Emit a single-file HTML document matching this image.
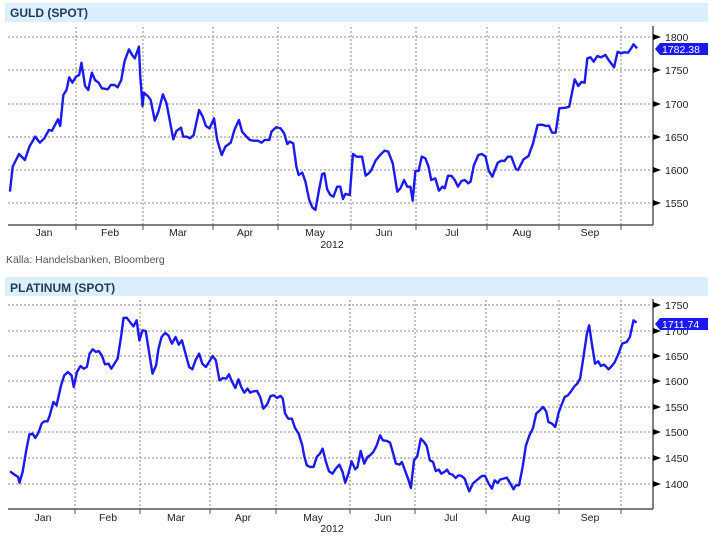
<!DOCTYPE html>
<html><head><meta charset="utf-8"><style>
body{margin:0;background:#fff;width:709px;height:544px;overflow:hidden}
svg text{font-family:"Liberation Sans",sans-serif;font-size:10.5px;fill:#222}
</style></head><body>
<svg width="709" height="544" viewBox="0 0 709 544" xmlns="http://www.w3.org/2000/svg">
<!-- Chart 1 -->
<rect x="5" y="3" width="703" height="19" fill="#dcefff"/>
<text x="10" y="17" style="font-size:12px;font-weight:bold;fill:#1f3a5a">GULD (SPOT)</text>
<g stroke="#888" stroke-width="1" stroke-dasharray="2,2">
<line x1="8" y1="37" x2="653" y2="37"/><line x1="8" y1="70" x2="653" y2="70"/><line x1="8" y1="104" x2="653" y2="104"/><line x1="8" y1="137" x2="653" y2="137"/><line x1="8" y1="170" x2="653" y2="170"/><line x1="8" y1="203" x2="653" y2="203"/>
<line x1="76" y1="27" x2="76" y2="225"/><line x1="143" y1="27" x2="143" y2="225"/><line x1="213" y1="27" x2="213" y2="225"/><line x1="278" y1="27" x2="278" y2="225"/><line x1="351" y1="27" x2="351" y2="225"/><line x1="416" y1="27" x2="416" y2="225"/><line x1="487" y1="27" x2="487" y2="225"/><line x1="559" y1="27" x2="559" y2="225"/><line x1="621" y1="27" x2="621" y2="225"/>
</g>
<g stroke="#555" stroke-width="1.5"><line x1="653" y1="26" x2="653" y2="225"/><line x1="8" y1="225" x2="653" y2="225"/></g>
<g stroke="#555"><line x1="76" y1="225" x2="76" y2="230"/><line x1="143" y1="225" x2="143" y2="230"/><line x1="213" y1="225" x2="213" y2="230"/><line x1="278" y1="225" x2="278" y2="230"/><line x1="351" y1="225" x2="351" y2="230"/><line x1="416" y1="225" x2="416" y2="230"/><line x1="487" y1="225" x2="487" y2="230"/><line x1="559" y1="225" x2="559" y2="230"/><line x1="621" y1="225" x2="621" y2="230"/></g>
<g fill="#000"><path d="M653 34l8 3-8 3z"/><path d="M653 67l8 3-8 3z"/><path d="M653 101l8 3-8 3z"/><path d="M653 134l8 3-8 3z"/><path d="M653 167l8 3-8 3z"/><path d="M653 200l8 3-8 3z"/></g>
<text x="665" y="41">1800</text><text x="665" y="74">1750</text><text x="665" y="108">1700</text><text x="665" y="141">1650</text><text x="665" y="174">1600</text><text x="665" y="207">1550</text>
<g text-anchor="middle"><text x="44" y="236">Jan</text><text x="110" y="236">Feb</text><text x="178" y="236">Mar</text><text x="245" y="236">Apr</text><text x="315" y="236">May</text><text x="384" y="236">Jun</text><text x="452" y="236">Jul</text><text x="522" y="236">Aug</text><text x="590" y="236">Sep</text><text x="332" y="248">2012</text></g>
<text x="6" y="263" style="fill:#555">Källa: Handelsbanken, Bloomberg</text>
<g transform="scale(0.4525,0.3333)"><polyline fill="none" stroke="#1a1aee" stroke-width="2.4" vector-effect="non-scaling-stroke" stroke-linejoin="round" points="22,575 28,500 42,462 55,480 65,440 78,410 88,428 98,415 108,390 115,392 128,358 133,378 140,285 147,270 153,232 160,248 168,230 175,225 180,188 188,258 195,270 203,218 210,240 218,248 225,265 238,268 245,255 253,255 260,262 268,240 275,185 285,148 292,165 298,175 307,140 310,230 315,318 318,278 328,290 333,300 342,362 350,335 360,283 368,310 375,360 383,418 390,393 400,383 405,410 413,410 420,415 428,405 440,330 448,350 455,378 463,385 473,355 480,420 490,465 498,440 510,428 518,390 528,360 535,395 545,410 552,420 560,422 570,422 578,428 585,420 595,420 600,395 610,382 620,385 628,400 635,432 640,425 648,430 655,500 660,525 668,518 675,545 683,598 690,622 697,630 705,570 712,522 717,520 723,568 730,585 737,590 745,560 752,560 758,597 763,582 773,585 780,462 788,470 800,470 808,527 815,520 820,512 830,482 840,465 850,452 858,455 868,490 878,575 885,565 893,540 900,560 907,560 912,602 918,513 925,513 932,470 940,475 947,500 953,540 962,535 970,572 978,560 983,565 990,527 998,528 1005,540 1012,560 1020,543 1027,540 1035,550 1040,545 1047,497 1057,465 1065,462 1073,470 1080,512 1088,530 1100,488 1108,482 1115,483 1122,470 1130,470 1140,507 1145,510 1157,478 1168,468 1178,430 1188,375 1198,374 1206,378 1213,377 1220,398 1228,398 1236,325 1250,323 1258,320 1270,238 1278,258 1285,246 1292,248 1298,175 1305,172 1312,185 1320,168 1328,172 1338,165 1345,180 1357,202 1365,155 1372,160 1380,157 1388,158 1395,145 1400,133 1408,145"/></g>
<path d="M655 49l5-6h48v12h-48z" fill="#1a1aee"/>
<text x="662" y="53" style="fill:#fff">1782.38</text>

<!-- Chart 2 -->
<rect x="5" y="277" width="703" height="19" fill="#dcefff"/>
<text x="10" y="292" style="font-size:12px;font-weight:bold;fill:#1f3a5a">PLATINUM (SPOT)</text>
<g stroke="#888" stroke-width="1" stroke-dasharray="2,2">
<line x1="8" y1="305" x2="653" y2="305"/><line x1="8" y1="331" x2="653" y2="331"/><line x1="8" y1="356" x2="653" y2="356"/><line x1="8" y1="381" x2="653" y2="381"/><line x1="8" y1="407" x2="653" y2="407"/><line x1="8" y1="432" x2="653" y2="432"/><line x1="8" y1="458" x2="653" y2="458"/><line x1="8" y1="484" x2="653" y2="484"/>
<line x1="75" y1="300" x2="75" y2="509"/><line x1="140" y1="300" x2="140" y2="509"/><line x1="210" y1="300" x2="210" y2="509"/><line x1="276" y1="300" x2="276" y2="509"/><line x1="350" y1="300" x2="350" y2="509"/><line x1="415" y1="300" x2="415" y2="509"/><line x1="486" y1="300" x2="486" y2="509"/><line x1="559" y1="300" x2="559" y2="509"/><line x1="621" y1="300" x2="621" y2="509"/>
</g>
<g stroke="#555" stroke-width="1.5"><line x1="653" y1="299" x2="653" y2="509"/><line x1="8" y1="509" x2="653" y2="509"/></g>
<g stroke="#555"><line x1="75" y1="509" x2="75" y2="514"/><line x1="140" y1="509" x2="140" y2="514"/><line x1="210" y1="509" x2="210" y2="514"/><line x1="276" y1="509" x2="276" y2="514"/><line x1="350" y1="509" x2="350" y2="514"/><line x1="415" y1="509" x2="415" y2="514"/><line x1="486" y1="509" x2="486" y2="514"/><line x1="559" y1="509" x2="559" y2="514"/><line x1="621" y1="509" x2="621" y2="514"/></g>
<g fill="#000"><path d="M653 302l8 3-8 3z"/><path d="M653 328l8 3-8 3z"/><path d="M653 353l8 3-8 3z"/><path d="M653 378l8 3-8 3z"/><path d="M653 404l8 3-8 3z"/><path d="M653 429l8 3-8 3z"/><path d="M653 455l8 3-8 3z"/><path d="M653 481l8 3-8 3z"/></g>
<text x="665" y="309">1750</text><text x="665" y="335">1700</text><text x="665" y="360">1650</text><text x="665" y="385">1600</text><text x="665" y="411">1550</text><text x="665" y="436">1500</text><text x="665" y="462">1450</text><text x="665" y="488">1400</text>
<g text-anchor="middle"><text x="43" y="521">Jan</text><text x="108" y="521">Feb</text><text x="176" y="521">Mar</text><text x="243" y="521">Apr</text><text x="313" y="521">May</text><text x="383" y="521">Jun</text><text x="451" y="521">Jul</text><text x="521" y="521">Aug</text><text x="590" y="521">Sep</text><text x="332" y="532">2012</text></g>
<g transform="translate(0,272) scale(0.4525,0.3333)"><polyline fill="none" stroke="#1a1aee" stroke-width="2.4" vector-effect="non-scaling-stroke" stroke-linejoin="round" points="22,598 32,608 40,615 43,632 50,600 58,535 65,487 72,485 78,498 85,482 92,455 98,448 105,448 110,430 118,390 125,400 135,340 142,310 150,300 158,310 163,345 170,300 178,282 185,290 192,285 198,245 205,232 212,240 218,237 225,250 232,277 240,275 246,290 253,275 260,260 268,190 273,138 280,137 290,155 295,163 302,145 308,205 315,175 322,177 330,245 337,305 345,280 350,232 357,195 365,183 372,190 380,215 388,195 395,218 402,205 410,245 418,285 425,292 432,265 440,245 447,275 455,285 462,270 470,252 477,265 485,325 493,318 500,320 506,307 513,330 520,348 527,322 533,345 540,362 547,350 553,362 560,358 568,357 575,375 582,410 590,398 598,372 605,370 612,378 620,372 625,380 630,425 637,440 645,440 652,468 660,485 668,520 672,550 678,580 685,585 693,585 700,555 707,545 713,530 720,568 727,598 735,605 742,590 750,578 757,600 763,632 770,605 777,568 785,592 790,585 797,537 805,575 812,555 818,550 825,540 832,522 840,490 846,505 855,507 862,512 868,540 875,575 883,578 888,570 895,595 903,625 908,648 915,565 922,553 930,500 937,510 943,522 950,565 957,570 963,597 970,593 975,605 982,600 988,593 993,605 1000,608 1007,618 1013,610 1020,612 1027,620 1032,640 1037,658 1045,635 1055,623 1065,612 1072,612 1080,635 1087,650 1093,625 1100,633 1105,623 1113,620 1120,617 1128,635 1135,652 1140,640 1147,640 1155,585 1162,522 1170,490 1178,468 1185,425 1193,415 1200,405 1207,418 1212,450 1220,455 1227,465 1235,420 1242,395 1248,375 1255,370 1262,358 1270,342 1275,336 1282,320 1290,250 1297,185 1302,160 1308,215 1315,275 1322,268 1328,282 1335,278 1345,292 1350,285 1358,272 1367,245 1375,215 1385,210 1392,195 1400,145 1407,152"/></g>
<path d="M655 324l5-6h48v12h-48z" fill="#1a1aee"/>
<text x="662" y="328" style="fill:#fff">1711.74</text>
</svg>
</body></html>
